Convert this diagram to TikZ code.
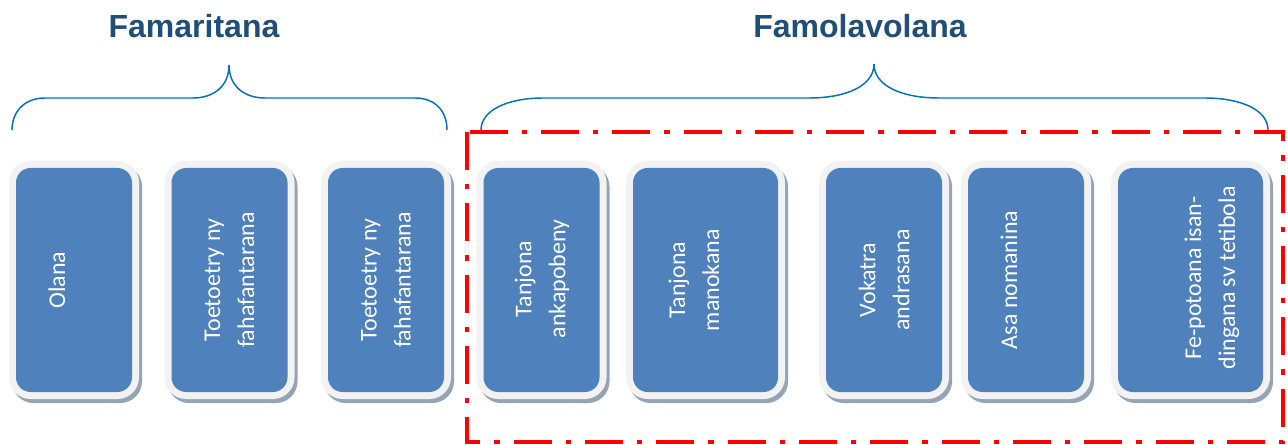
\documentclass[tikz,border=0pt]{standalone}
\usepackage{fontspec}
\setmainfont{Carlito}
\newfontfamily\titlefont{Liberation Sans}
\definecolor{boxblue}{HTML}{4F81BD}
\definecolor{framegray}{HTML}{F2F2F2}
\definecolor{shadowgray}{HTML}{95A3B4}
\definecolor{titleblue}{HTML}{1F4E79}
\definecolor{bracecol}{HTML}{0070C0}
\definecolor{redline}{HTML}{FF0000}
\tikzset{
  cardbox/.style={minimum height=168pt, minimum width=87pt, inner sep=0pt,
    fill=boxblue, rounded corners=11pt,
    preaction={draw=shadowgray, line width=10.5pt, rounded corners=11pt,
      transform canvas={shift={(2.25pt,-3pt)}}},
    preaction={draw=framegray, line width=10.5pt, rounded corners=11pt}},
  widebox/.style={cardbox, minimum width=108.75pt},
  cardtext/.style={rotate=90, text=white, font=\fontsize{18pt}{25.5pt}\selectfont,
    align=center, inner sep=0pt},
  titletext/.style={text=titleblue, font=\titlefont\bfseries\fontsize{24pt}{28pt}\selectfont, inner sep=0pt},
  bracepath/.style={draw=bracecol, line width=1.1pt},
  redframe/.style={draw=redline, line width=3pt,
    dash pattern=on 28.5pt off 10.5pt on 4pt off 10.5pt}
}
\begin{document}
\begin{tikzpicture}[x=0.75pt, y=-0.75pt]
\useasboundingbox (0,0) rectangle (1288,445);
% titles
\node[titletext] (title1) at (194,26) {Famaritana};
\node[titletext] (title2) at (860,26) {Famolavolana};
% braces
\coordinate (lbA) at (12,130);
\coordinate (lbB) at (447,130);
\coordinate (lbT) at (229,65);
\draw[bracepath] (lbA) .. controls (12,112) and (24,98) .. (45,98) -- (193,98)
  .. controls (214,98) and (229,86) .. (lbT)
  .. controls (229,86) and (244,98) .. (265,98) -- (415,98)
  .. controls (436,98) and (447,112) .. (lbB);
\coordinate (rbA) at (481,130);
\coordinate (rbB) at (1268,130);
\coordinate (rbT) at (874,64);
\draw[bracepath] (rbA) .. controls (481,110) and (508,98) .. (543,98) -- (809,98)
  .. controls (846,98) and (874,86) .. (rbT)
  .. controls (874,86) and (902,98) .. (939,98) -- (1205,98)
  .. controls (1241,98) and (1268,110) .. (rbB);
% boxes
\node[cardbox] (b1) at (74,280) {};
\node[cardbox] (b2) at (229.5,280) {};
\node[cardbox] (b3) at (386,280) {};
\node[cardbox] (b4) at (541.5,280) {};
\node[widebox] (b5) at (705.5,280) {};
\node[cardbox] (b6) at (884,280) {};
\node[cardbox] (b7) at (1026,280) {};
\node[widebox] (b8) at (1190.5,280) {};
% texts
\node[cardtext] (t1) at (57,280) {Olana};
\node[cardtext] (t2) at (229.5,280) {Toetoetry ny\\fahafantarana};
\node[cardtext] (t3) at (386,280) {Toetoetry ny\\fahafantarana};
\node[cardtext] (t4) at (542,279) {Tanjona\\ankapobeny};
\node[cardtext] (t5) at (694,280) {Tanjona\\manokana};
\node[cardtext] (t6) at (884,280) {Vokatra\\andrasana};
\node[cardtext] (t7) at (1009,280) {Asa nomanina};
\node[cardtext] (t8) at (1212,278) {Fe-potoana isan-\\dingana sv tetibola};
% red frame
\coordinate (rfA) at (467,132);
\coordinate (rfB) at (1283,442);
\draw[redframe] (rfA) rectangle (rfB);
\end{tikzpicture}
\end{document}
